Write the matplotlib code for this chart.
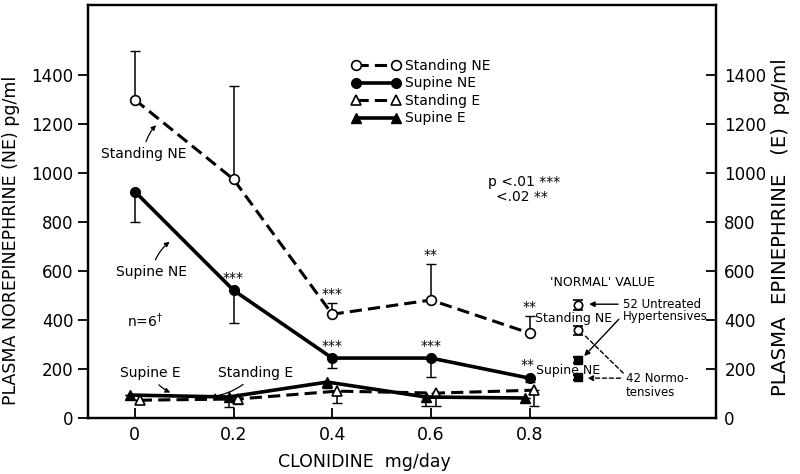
import matplotlib
matplotlib.use("Agg")
import matplotlib.pyplot as plt

plt.rcParams["font.family"] = ["DejaVu Sans"]

# clonidine dose, mg/day
dose = [0.0, 0.2, 0.4, 0.6, 0.8]

# norepinephrine, pg/ml
standing_ne = [1300, 975, 424, 482, 347]
standing_ne_err_up = [200, 380, 45, 147, 69]
supine_ne = [925, 522, 245, 245, 163]
supine_ne_err_dn = [125, 134, 41, 78, 15]

# epinephrine, pg/ml
supine_e = [94, 86, 147, 86, 82]
supine_e_err_dn = [0, 41, 25, 36, 0]
standing_e = [73, 78, 110, 102, 114]
standing_e_err_dn = [0, 20, 49, 53, 65]

# stars above the NE points
stand_stars = ["", "", "***", "**", "**"]
sup_stars = ["", "***", "***", "***", ""]

# 'normal' reference values
normal_x = 0.898
normal_stand = [461, 359]       # hypertensives, normotensives
normal_stand_err = [21, 18]
normal_sup = [237, 167]
normal_sup_err = [12, 10]

fig = plt.figure(figsize=(8, 4.74), dpi=100)
ax = fig.add_axes([0.11, 0.118, 0.785, 0.871])

dash = (0, (4, 2))
ax.errorbar(dose, standing_ne, yerr=[[0] * 5, standing_ne_err_up], fmt="none",
            ecolor="black", elinewidth=1.1, capsize=3.5)
ax.plot(dose, standing_ne, color="black", lw=2.2, linestyle=dash, marker="o",
        ms=7, mfc="white", mec="black", mew=1.2, label="Standing NE", zorder=3)
ax.errorbar(dose, supine_ne, yerr=[supine_ne_err_dn, [0] * 5], fmt="none",
            ecolor="black", elinewidth=1.1, capsize=3.5)
ax.plot(dose, supine_ne, color="black", lw=2.6, marker="o", ms=7,
        mfc="black", mec="black", label="Supine NE", zorder=3)

dose_sup_e = [d - 0.01 for d in dose]
dose_stand_e = [d + 0.01 for d in dose]
ax.errorbar(dose_stand_e, standing_e, yerr=[standing_e_err_dn, [0] * 5],
            fmt="none", ecolor="black", elinewidth=1.1, capsize=3.5)
ax.plot(dose_stand_e, standing_e, color="black", lw=2.2, linestyle=dash,
        marker="^", ms=7, mfc="white", mec="black", mew=1.2,
        label="Standing E", zorder=3)
ax.errorbar(dose_sup_e, supine_e, yerr=[supine_e_err_dn, [0] * 5],
            fmt="none", ecolor="black", elinewidth=1.1, capsize=3.5)
ax.plot(dose_sup_e, supine_e, color="black", lw=2.6, marker="^", ms=7,
        mfc="black", mec="black", label="Supine E", zorder=3)

# stars
for x, y, e, s in zip(dose, standing_ne, standing_ne_err_up, stand_stars):
    if s:
        ax.text(x, y + e + 8, s, ha="center", va="bottom", fontsize=10)
for x, y, s in zip(dose, supine_ne, sup_stars):
    if s:
        ax.text(x, y + 22, s, ha="center", va="bottom", fontsize=10)
ax.text(0.795, 190, "**", ha="center", va="bottom", fontsize=10)

# normal values
nx = [normal_x, normal_x]
ax.errorbar(nx, normal_stand, yerr=normal_stand_err, fmt="o", ms=6,
            mfc="white", mec="black", ecolor="black", elinewidth=1.1,
            capsize=3.5, capthick=1.5, mew=1.2)
ax.errorbar(nx, normal_sup, yerr=normal_sup_err, fmt="s", ms=6,
            mfc="black", mec="black", ecolor="black", elinewidth=1.1,
            capsize=3.5, capthick=1.5)
ax.text(0.947, 555, "'NORMAL' VALUE", ha="center", va="center", fontsize=9)
ax.text(0.89, 408, "Standing NE", ha="center", va="center", fontsize=9)
ax.text(0.878, 196, "Supine NE", ha="center", va="center", fontsize=9)
ax.text(0.99, 465, "52 Untreated", ha="left", va="center", fontsize=8.5)
ax.text(0.99, 416, "Hypertensives", ha="left", va="center", fontsize=8.5)
ax.text(0.995, 163, "42 Normo-", ha="left", va="center", fontsize=8.5)
ax.text(1.045, 106, "tensives", ha="center", va="center", fontsize=8.5)
arr = dict(arrowstyle="-|>", color="black", lw=1.0, mutation_scale=8)
ax.annotate("", xy=(0.915, 465), xytext=(0.985, 465), arrowprops=arr)
ax.annotate("", xy=(0.907, 245), xytext=(0.985, 412), arrowprops=arr)
darr = dict(arrowstyle="-|>", color="black", lw=1.0, mutation_scale=8,
            linestyle=(0, (3, 2)))
ax.annotate("", xy=(0.912, 163), xytext=(0.99, 163), arrowprops=darr)
ax.annotate("", xy=(0.907, 347), xytext=(0.994, 176),
            arrowprops=dict(arrowstyle="-", color="black", lw=1.0,
                            linestyle=(0, (3, 2))))

# curve labels
lab = dict(arrowstyle="-|>", color="black", lw=0.9, mutation_scale=7,
           connectionstyle="arc3,rad=-0.2")
ax.annotate("Standing NE", xy=(0.047, 1204), xytext=(0.018, 1078),
            ha="center", va="center", fontsize=10, arrowprops=lab)
ax.annotate("Supine NE", xy=(0.075, 727), xytext=(0.034, 596),
            ha="center", va="center", fontsize=10, arrowprops=lab)
ax.annotate("Supine E", xy=(0.077, 100), xytext=(0.032, 184),
            ha="center", va="center", fontsize=10,
            arrowprops=dict(lab, connectionstyle="arc3,rad=0.2"))
ax.annotate("Standing E", xy=(0.148, 86), xytext=(0.245, 184),
            ha="center", va="center", fontsize=10, arrowprops=lab)
ax.text(0.02, 396, r"n=6$^{\dagger}$", ha="center", va="center", fontsize=10)
ax.text(0.79, 963, "p <.01 ***", ha="center", va="center", fontsize=10)
ax.text(0.785, 902, "<.02 **", ha="center", va="center", fontsize=10)

ax.legend(loc="upper left", bbox_to_anchor=(0.40, 0.9), frameon=False,
          numpoints=2, handlelength=3.5, handletextpad=0.35,
          labelspacing=0.25, fontsize=10)

ax.set_xlim(-0.095, 1.178)
ax.set_ylim(0, 1686)
ax.set_xticks(dose)
ax.set_xticklabels(["0", "0.2", "0.4", "0.6", "0.8"])
ax.set_yticks(range(0, 1401, 200))
ax.tick_params(axis="y", direction="out", length=7, width=1.3, labelsize=12)
ax.tick_params(axis="x", direction="in", length=7, width=1.3, labelsize=12.5,
               pad=6)
for sp in ax.spines.values():
    sp.set_linewidth(1.6)
ax.set_xlabel("CLONIDINE  mg/day", fontsize=12.5)
ax.xaxis.set_label_coords(0.44, -0.085)
ax.set_ylabel("PLASMA NOREPINEPHRINE (NE) pg/ml", fontsize=12.5)
ax.yaxis.set_label_coords(-0.108, 0.43)

ax2 = ax.twinx()
ax2.set_ylim(ax.get_ylim())
ax2.set_yticks(range(0, 1401, 200))
ax2.tick_params(axis="y", direction="in", length=7, width=1.3, labelsize=12,
                pad=6)
ax2.set_ylabel("PLASMA  EPINEPHRINE   (E)  pg/ml", fontsize=14.2)
ax2.yaxis.set_label_coords(1.088, 0.462)
for sp in ax2.spines.values():
    sp.set_linewidth(1.6)

fig.savefig("out.png", dpi=100)
